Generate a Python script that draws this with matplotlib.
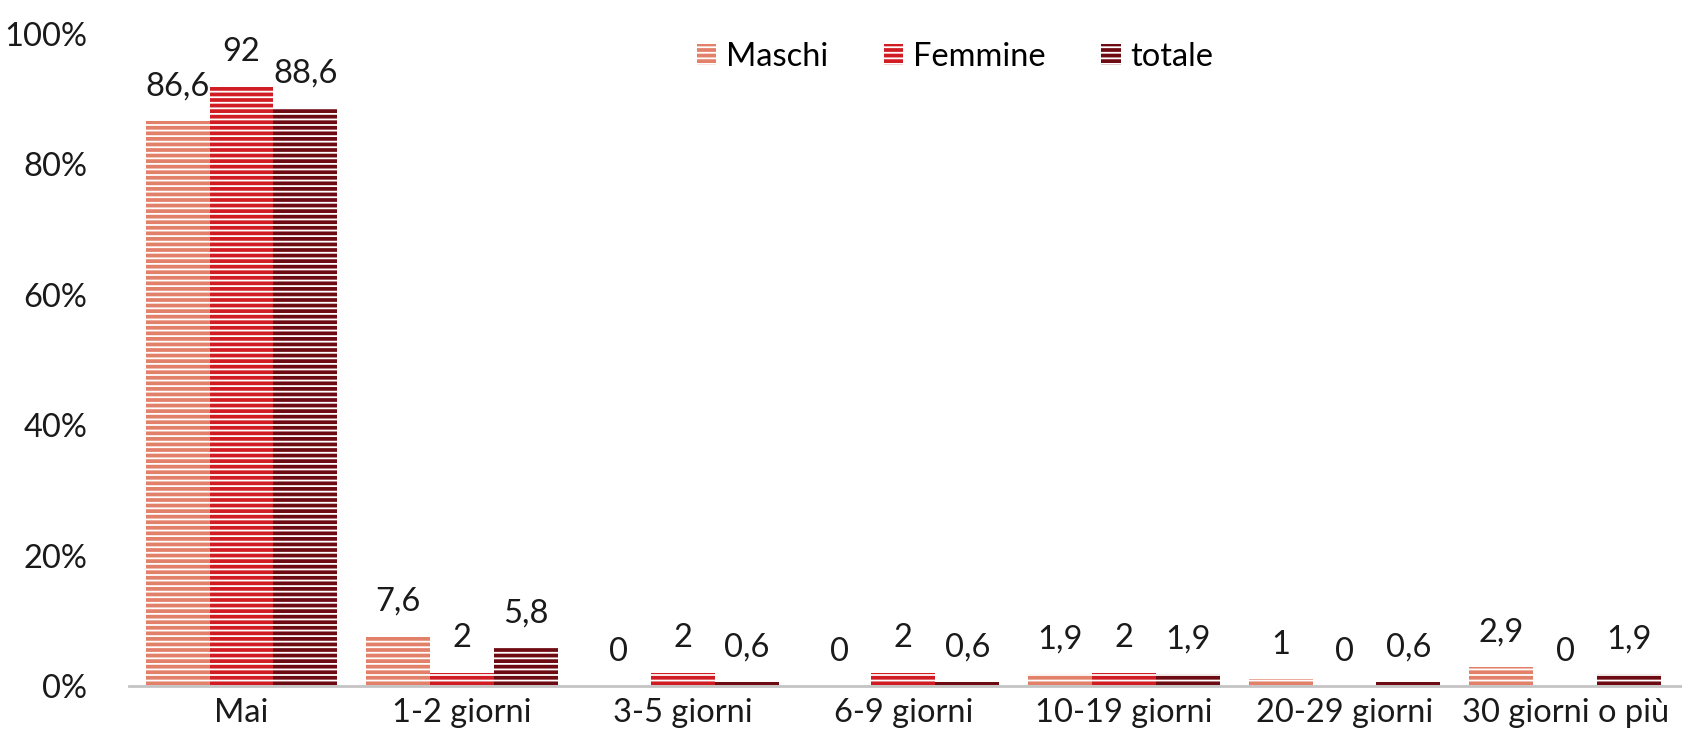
import matplotlib.pyplot as plt
import numpy as np

categorie = ["Mai", "1-2 giorni", "3-5 giorni", "6-9 giorni",
             "10-19 giorni", "20-29 giorni", "30 giorni o più"]
maschi = [86.6, 7.6, 0, 0, 1.9, 1, 2.9]
femmine = [92, 2, 2, 2, 2, 0, 0]
totale = [88.6, 5.8, 0.6, 0.6, 1.9, 0.6, 1.9]

serie = [("Maschi", maschi, "#e2806a"),
         ("Femmine", femmine, "#d01c22"),
         ("totale", totale, "#6e0a12")]


def fmt(v):
    s = ("%.1f" % v).rstrip("0").rstrip(".")
    return s.replace(".", ",")


def plot_chart():
    plt.rcParams["font.family"] = ["Lato", "DejaVu Sans"]
    plt.rcParams["hatch.linewidth"] = 1.3
    plt.rcParams["hatch.color"] = "white"

    fig = plt.figure(figsize=(16.82, 7.53), dpi=100)
    ax = fig.add_axes([0.0767, 0.089, 0.9233, 0.866])

    x = np.arange(len(categorie))
    w = 0.29
    for i, (nome, vals, col) in enumerate(serie):
        pos = x + (i - 1) * w
        ax.bar(pos, vals, w, color=col, hatch="---", edgecolor="white",
               linewidth=0, label=nome)
        for px, v in zip(pos, vals):
            ax.annotate(fmt(v), (px, v), xytext=(0, 14), textcoords="offset points",
                        ha="center", va="bottom", fontsize=23.5, color="#1a1a1a",
                        annotation_clip=False)

    ax.set_xlim(-0.51, 6.53)
    ax.set_ylim(0, 100)
    ax.set_yticks(range(0, 101, 20))
    ax.set_yticklabels(["%d%%" % t for t in range(0, 101, 20)])
    ax.set_xticks(x)
    ax.set_xticklabels(categorie)
    ax.tick_params(axis="both", length=0, labelsize=23.5, colors="#1a1a1a")
    ax.tick_params(axis="x", pad=9)
    ax.tick_params(axis="y", pad=30)
    for s in ["top", "right", "left"]:
        ax.spines[s].set_visible(False)
    ax.spines["bottom"].set_color("#c4c4c4")
    ax.spines["bottom"].set_linewidth(2)

    ax.legend(loc="center", bbox_to_anchor=(0.532, 0.965), ncol=3,
              frameon=False, fontsize=23.5, handlelength=0.6, handleheight=0.6,
              handletextpad=0.3, columnspacing=1.7)

    plt.savefig("out.png", dpi=100)
    plt.close()


def main():
    plot_chart()


if __name__ == "__main__":
    main()
